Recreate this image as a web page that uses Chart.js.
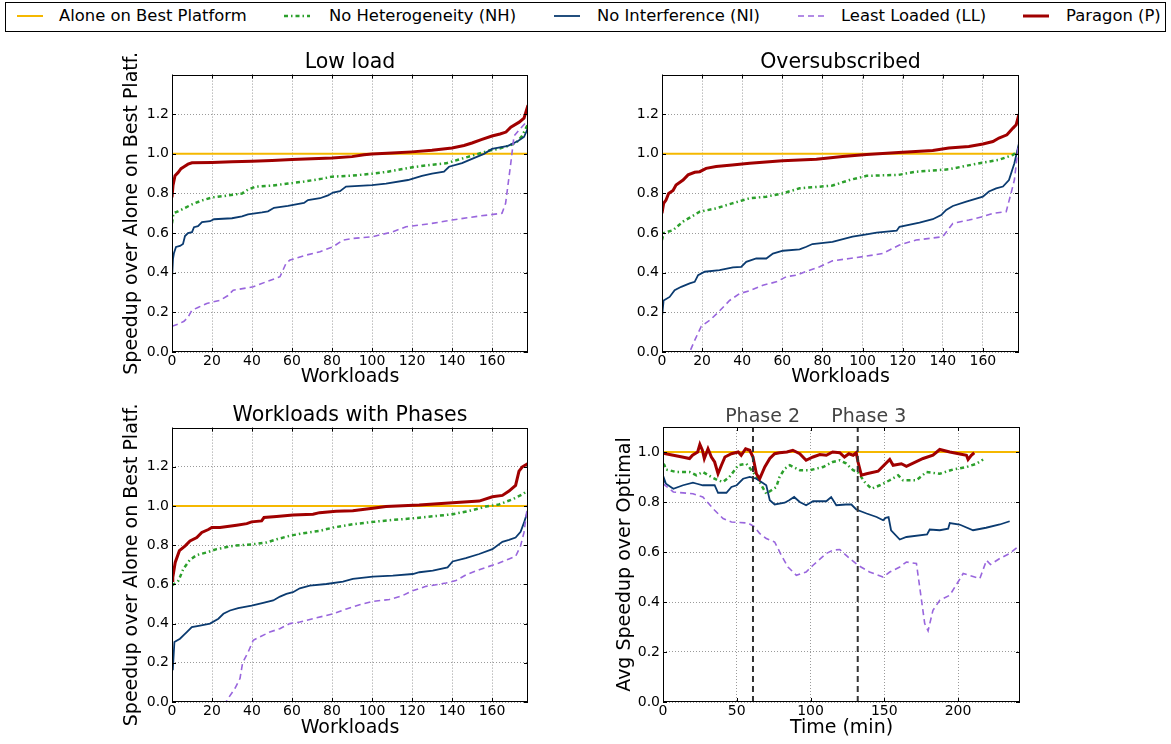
<!DOCTYPE html>
<html>
<head>
<meta charset="utf-8">
<script src="https://cdn.jsdelivr.net/npm/chart.js@4.4.1/dist/chart.umd.min.js"></script>
<style>
  body { margin: 0; background: #fff; font-family: 'DejaVu Sans', sans-serif; }
  #page { position: relative; width: 1171px; height: 744px; overflow: hidden; }
  canvas { position: absolute; }
  #legendBox { position: absolute; left: 5px; top: 2px; width: 1159px; height: 28px; border: 1px solid #000; }
  .item { position: absolute; top: 2px; height: 28px; line-height: 28px; font-size: 16.4px; white-space: nowrap; color: #000; }
  .swatch { position: absolute; top: 12px; }
</style>
</head>
<body>
<div id="page">
  <div id="legendBox"></div>
  <canvas id="lowLoad" width="430" height="345" style="left:112px;top:46px"></canvas>
  <canvas id="oversub" width="431" height="345" style="left:602px;top:46px"></canvas>
  <canvas id="phases" width="430" height="342" style="left:112px;top:399px"></canvas>
  <canvas id="timeline" width="431" height="342" style="left:603px;top:399px"></canvas>
</div>
<script>
// series names, legend order
const seriesNames = ['Alone on Best Platform', 'No Heterogeneity (NH)', 'No Interference (NI)', 'Least Loaded (LL)', 'Paragon (P)'];
const aloneLevel = 1.0;

// ticks
const workloadTicks = [0, 20, 40, 60, 80, 100, 120, 140, 160];
const timeTicks = [0, 50, 100, 150, 200];
const speedupTicks = [0, 0.2, 0.4, 0.6, 0.8, 1.0, 1.2];
const avgTicks = [0, 0.2, 0.4, 0.6, 0.8, 1.0];
const workloadMax = 178;
const timeMax = 242;

// Low load  [workload, speedup]
const lowNH = [[0,0.65],[0.7,0.70],[3,0.71],[6,0.725],[10,0.745],[15,0.765],[20,0.78],[28,0.79],[35,0.80],[38,0.82],[42,0.835],[50,0.84],[58,0.85],[66,0.86],[75,0.875],[80,0.885],[90,0.89],[100,0.90],[108,0.91],[116,0.925],[122,0.935],[130,0.945],[137,0.952],[143,0.97],[148,0.985],[153,1.0],[158,1.015],[163,1.025],[168,1.04],[172,1.055],[175,1.09],[178,1.15]];
const lowNI = [[0,0.37],[0.5,0.47],[1,0.50],[2,0.53],[4,0.535],[5.5,0.545],[6.5,0.585],[8,0.60],[10,0.605],[11,0.63],[13,0.635],[15,0.655],[19,0.66],[21,0.67],[30,0.675],[35,0.685],[38,0.695],[45,0.705],[48,0.71],[51,0.728],[58,0.737],[62,0.745],[66,0.752],[68,0.767],[74,0.776],[78,0.79],[80.5,0.805],[84,0.812],[87,0.835],[100,0.842],[107,0.85],[118,0.868],[125,0.889],[130,0.90],[136,0.91],[138.5,0.935],[145,0.953],[150,0.975],[156,1.0],[160,1.025],[168,1.04],[173,1.065],[176,1.085],[178,1.13]];
const lowLL = [[0,0.13],[3,0.14],[6,0.155],[8,0.175],[9.9,0.21],[13,0.225],[17.4,0.245],[24,0.261],[28,0.285],[30.6,0.312],[40.6,0.329],[47,0.354],[54,0.38],[57,0.447],[59,0.464],[67,0.489],[74,0.506],[80.5,0.531],[85.5,0.565],[90.4,0.573],[100.4,0.582],[110.4,0.607],[117,0.632],[130,0.649],[140,0.666],[153.6,0.686],[165,0.70],[166.8,0.75],[169.4,0.953],[171,1.09],[173.5,1.12],[178,1.17]];
const lowP = [[0,0.78],[0.5,0.84],[1.5,0.89],[3,0.905],[4.5,0.925],[6,0.935],[8,0.948],[10,0.955],[20,0.957],[30,0.96],[40,0.963],[50,0.967],[60,0.971],[70,0.975],[80,0.979],[90,0.986],[96,0.995],[100,0.999],[110,1.004],[120,1.01],[130,1.018],[140,1.03],[146,1.042],[150,1.055],[155,1.073],[160,1.09],[164,1.1],[167,1.11],[169.4,1.135],[173.6,1.16],[176,1.18],[178,1.245]];

// Oversubscribed
const overNH = [[0,0.565],[0.8,0.6],[5.5,0.615],[10.5,0.658],[18.8,0.708],[27,0.725],[35,0.75],[43.7,0.776],[52,0.784],[60,0.80],[68.6,0.826],[85,0.84],[93.5,0.868],[102,0.889],[118,0.894],[126.7,0.91],[143,0.922],[151.7,0.94],[160,0.956],[168,0.97],[175,0.995],[178,1.02]];
const overNI = [[0,0.177],[0.8,0.26],[3.8,0.278],[6.3,0.312],[9.6,0.329],[13.8,0.346],[16.3,0.354],[18,0.388],[21.3,0.405],[28.7,0.413],[35.4,0.427],[39.5,0.43],[42,0.455],[47,0.472],[52,0.472],[55.3,0.497],[60.3,0.511],[68.6,0.518],[72,0.531],[75,0.545],[85,0.556],[95,0.582],[102,0.594],[107,0.602],[117,0.612],[118.4,0.632],[128.4,0.653],[135,0.67],[139.2,0.691],[141.7,0.717],[145,0.737],[151.7,0.759],[160,0.784],[163,0.81],[166.6,0.826],[170,0.835],[173,0.868],[175.7,0.953],[178,1.054]];
const overLL = [[0,0],[13.8,0],[16.3,0.059],[19.6,0.13],[23.8,0.16],[28,0.2],[33.7,0.26],[38.7,0.295],[43.7,0.309],[50.3,0.337],[57,0.354],[62,0.38],[67,0.388],[73.6,0.413],[78.6,0.43],[85,0.46],[93.5,0.472],[102,0.484],[110,0.497],[118.4,0.54],[126.7,0.565],[140,0.582],[145,0.649],[153,0.666],[160,0.683],[165,0.7],[171.6,0.708],[174,0.80],[175.7,0.868],[178,1.07]];
const overP = [[0,0.70],[0.8,0.75],[2,0.767],[3.3,0.80],[5.5,0.815],[7,0.843],[10.5,0.868],[13,0.894],[16.3,0.907],[18.8,0.91],[22,0.927],[27,0.936],[35,0.944],[43.7,0.953],[60,0.965],[77,0.973],[90,0.987],[102,0.997],[118,1.007],[135,1.017],[143,1.03],[153,1.037],[160,1.05],[165,1.062],[168,1.08],[172,1.096],[175,1.13],[176.6,1.147],[178,1.2]];

// Workloads with phases
const phaseNH = [[0,0.594],[3.3,0.62],[5.7,0.68],[9,0.726],[12.4,0.75],[17.4,0.763],[22.3,0.78],[30.6,0.797],[40.6,0.805],[47.3,0.814],[52.3,0.83],[58.9,0.848],[65.5,0.861],[73.8,0.873],[80.5,0.89],[90.4,0.907],[100.4,0.919],[110.4,0.929],[120.4,0.937],[132,0.949],[140.3,0.958],[148.6,0.975],[157,0.997],[163.5,1.008],[170.2,1.034],[175.2,1.059],[178,1.08]];
const phaseNI = [[0.4,0.162],[1.2,0.306],[4,0.323],[5.7,0.34],[7.4,0.357],[9.9,0.382],[14,0.39],[19,0.4],[23.2,0.425],[25.7,0.45],[29,0.467],[33.1,0.479],[39.8,0.492],[45.6,0.506],[50.6,0.518],[54,0.538],[57.2,0.552],[60.5,0.56],[63.9,0.58],[68.9,0.594],[77.2,0.602],[85.5,0.614],[90.4,0.628],[100.4,0.64],[110.4,0.645],[120.4,0.653],[123.7,0.662],[130.4,0.67],[137.8,0.687],[140.3,0.717],[146.9,0.734],[153.6,0.755],[160.2,0.78],[165.2,0.817],[168.5,0.827],[171.8,0.839],[174.3,0.868],[176,0.915],[178,0.98]];
const phaseLL = [[0,0],[27,0],[28.2,0.02],[31.5,0.07],[34,0.12],[35.3,0.2],[38.1,0.255],[40.6,0.315],[43.9,0.332],[48.9,0.357],[53.9,0.374],[58.9,0.4],[63.9,0.408],[70.5,0.425],[80.5,0.45],[87.2,0.475],[93.8,0.496],[100.4,0.513],[108.7,0.523],[115.3,0.543],[120.3,0.568],[127,0.59],[137,0.607],[142,0.62],[146.9,0.648],[153.6,0.675],[158.5,0.692],[163.5,0.709],[168.5,0.73],[171.8,0.743],[174.3,0.797],[176,0.865],[178,1.02]];
const phaseP = [[0,0.62],[0.4,0.636],[1.6,0.712],[3.7,0.772],[6.6,0.797],[9,0.822],[12.4,0.839],[14.9,0.865],[18.2,0.88],[19.9,0.89],[24,0.89],[32.3,0.902],[37.4,0.91],[39.8,0.919],[44.8,0.924],[46,0.941],[52.3,0.946],[60.5,0.954],[70.5,0.958],[73.8,0.966],[82,0.973],[90.4,0.976],[100.4,0.988],[107,0.997],[123.6,1.005],[140.3,1.017],[153.6,1.025],[160.2,1.047],[165.2,1.054],[168.5,1.076],[171.8,1.105],[173.5,1.178],[175.2,1.2],[178,1.217]];

// Timeline  [minutes, avg speedup]
const timeNH = [[0,0.953],[1,0.947],[2,0.93],[9,0.92],[18,0.92],[22.6,0.907],[27,0.92],[32.8,0.9],[37.3,0.887],[40.7,0.88],[45,0.9],[51,0.947],[56.5,0.953],[61,0.92],[65.5,0.88],[70,0.833],[73.5,0.847],[76.8,0.86],[79,0.9],[82.5,0.933],[86,0.947],[92.7,0.927],[99.5,0.927],[108.5,0.94],[115,0.96],[119.8,0.967],[124,0.955],[128.9,0.927],[132,0.92],[136.7,0.88],[141.3,0.853],[147,0.867],[153.7,0.887],[159.4,0.907],[162.7,0.887],[171.8,0.887],[178.6,0.92],[187.6,0.913],[196.6,0.93],[205.7,0.94],[212.5,0.953],[217,0.97]];
const timeNI = [[0,0.87],[0.8,0.893],[2,0.873],[7,0.853],[13.6,0.867],[20.3,0.877],[23,0.873],[27,0.867],[35,0.867],[37.3,0.837],[43,0.837],[46.4,0.86],[50,0.867],[54.3,0.893],[58.8,0.9],[63.3,0.893],[66.7,0.88],[70,0.867],[72.4,0.807],[75.7,0.79],[82.5,0.797],[85.5,0.807],[88.9,0.82],[92.7,0.8],[97,0.787],[101.7,0.803],[110.7,0.803],[114,0.82],[117.5,0.787],[124,0.79],[127.7,0.79],[131,0.77],[138,0.754],[144.8,0.74],[149.2,0.727],[151,0.737],[152.9,0.74],[154.6,0.687],[160.5,0.65],[165,0.66],[179,0.67],[180.8,0.69],[187.6,0.687],[193.3,0.693],[194.4,0.716],[201,0.71],[210.2,0.687],[219,0.697],[228.3,0.71],[235,0.723]];
const timeLL = [[0,0.873],[7,0.84],[20.3,0.833],[27,0.82],[35,0.767],[40.7,0.734],[46.4,0.72],[57.6,0.716],[62.2,0.7],[65.5,0.674],[70,0.654],[75.7,0.64],[80.2,0.587],[84.7,0.54],[90.4,0.507],[97,0.52],[101.7,0.547],[110.7,0.594],[115,0.607],[119.8,0.61],[126.6,0.574],[132.2,0.547],[140,0.52],[149.2,0.5],[153.7,0.52],[160.5,0.54],[165,0.56],[171.8,0.554],[174,0.46],[177.4,0.314],[179.7,0.285],[183,0.367],[187.6,0.407],[194.4,0.427],[200,0.48],[203.5,0.514],[214.8,0.494],[219.3,0.567],[222,0.55],[228.3,0.574],[235,0.594],[242,0.627]];
const timeP = [[0,0.995],[7,0.987],[13,0.98],[18,0.974],[20,0.987],[23.5,1.0],[25,1.03],[26.7,1.007],[28,0.974],[30.5,1.013],[32.8,0.98],[35,0.96],[37.3,0.913],[39.6,0.947],[42,0.98],[46.4,0.993],[51,1.0],[53,0.987],[56,1.013],[58.8,1.007],[61,0.98],[63.3,0.913],[65.5,0.893],[69,0.94],[72.4,0.974],[75.7,0.993],[79,0.997],[84,1.0],[88,1.007],[92.7,0.993],[97,0.967],[101.7,0.98],[106.3,0.99],[110.7,0.987],[115,1.0],[119.8,0.997],[123,0.98],[126,0.993],[128.9,0.987],[131,0.997],[132.2,0.96],[134.5,0.907],[138,0.913],[145.8,0.923],[153.7,0.97],[156,0.947],[161.6,0.953],[165,0.943],[176.3,0.974],[183,0.987],[187.6,1.01],[194.4,1.0],[205.7,0.987],[206.8,0.97],[209,0.987],[211,0.997]];

const phaseLines = [61, 132];
const phaseLabels = ['Phase 2', 'Phase 3'];
const phaseLabelX = [67.5, 139.5];

// styles per series (same order as seriesNames)
const seriesStyle = [
  { color: '#f5b800', width: 2, dash: [] },
  { color: '#2ca02c', width: 2.5, dash: [4, 3, 1.5, 3] },
  { color: '#0b3b70', width: 1.8, dash: [] },
  { color: '#9966dd', width: 1.6, dash: [6, 4] },
  { color: '#a00000', width: 3, dash: [] }
];
const legendPos = [[17, 59], [284, 329], [554, 597], [798, 841], [1023, 1066]];

Chart.defaults.font.family = "'DejaVu Sans', sans-serif";
Chart.defaults.color = '#000';

// legend (html)
const page = document.getElementById('page');
seriesNames.forEach((name, i) => {
  const st = seriesStyle[i];
  const sw = document.createElementNS('http://www.w3.org/2000/svg', 'svg');
  sw.setAttribute('width', 26); sw.setAttribute('height', 8);
  sw.setAttribute('class', 'swatch');
  sw.style.left = legendPos[i][0] + 'px';
  sw.innerHTML = '<line x1="0" y1="4" x2="26" y2="4" stroke="' + st.color + '" stroke-width="' + st.width +
    '" stroke-dasharray="' + (st.dash.length ? st.dash.join(' ') : 'none') + '"/>';
  page.appendChild(sw);
  const t = document.createElement('div');
  t.className = 'item';
  t.style.left = legendPos[i][1] + 'px';
  t.textContent = name;
  page.appendChild(t);
});

function toXY(arr) { return arr.map(p => ({ x: p[0], y: p[1] })); }

// frame + inward ticks like matplotlib
const framePlugin = {
  id: 'frame',
  afterDatasetsDraw(chart) {
    const { ctx, chartArea: a, scales: { x, y } } = chart;
    ctx.save();
    ctx.strokeStyle = '#000';
    ctx.lineWidth = 1;
    ctx.setLineDash([]);
    ctx.strokeRect(Math.round(a.left) + 0.5, Math.round(a.top) + 0.5, Math.round(a.right - a.left) - 1, Math.round(a.bottom - a.top) - 1);
    ctx.beginPath();
    x.ticks.forEach(t => {
      const px = Math.round(x.getPixelForValue(t.value)) + 0.5;
      ctx.moveTo(px, a.bottom); ctx.lineTo(px, a.bottom - 4);
      ctx.moveTo(px, a.top); ctx.lineTo(px, a.top + 4);
    });
    y.ticks.forEach(t => {
      const py = Math.round(y.getPixelForValue(t.value)) + 0.5;
      ctx.moveTo(a.left, py); ctx.lineTo(a.left + 4, py);
      ctx.moveTo(a.right, py); ctx.lineTo(a.right - 4, py);
    });
    ctx.stroke();
    ctx.restore();
  }
};

const phaseTextPlugin = {
  id: 'phaseText',
  afterDraw(chart) {
    if (chart.canvas.id !== 'timeline') return;
    const { ctx, chartArea, scales: { x } } = chart;
    ctx.save();
    ctx.font = "19px 'DejaVu Sans'";
    ctx.fillStyle = '#444';
    ctx.textAlign = 'center';
    ctx.textBaseline = 'middle';
    phaseLabels.forEach((txt, i) => ctx.fillText(txt, x.getPixelForValue(phaseLabelX[i]), chartArea.top - 10));
    ctx.restore();
  }
};

function lineSet(data, i) {
  const st = seriesStyle[i];
  return {
    label: seriesNames[i],
    data: toXY(data),
    borderColor: st.color,
    borderWidth: st.width,
    borderDash: st.dash,
    pointRadius: 0,
    tension: 0,
    fill: false,
    clip: 0,
    order: 5 - i
  };
}

function makeChart(id, opt) {
  const sets = [lineSet([[0, aloneLevel], [opt.xMax, aloneLevel]], 0)];
  opt.series.forEach((s, k) => sets.push(lineSet(s, k + 1)));
  (opt.vlines || []).forEach(v => sets.push({
    data: [{ x: v, y: 0 }, { x: v, y: opt.yMax }],
    borderColor: '#333', borderWidth: 2, borderDash: [6, 4], pointRadius: 0, clip: 0, order: 0
  }));
  return new Chart(document.getElementById(id), {
    type: 'line',
    data: { datasets: sets },
    plugins: [framePlugin, phaseTextPlugin],
    options: {
      responsive: false,
      animation: false,
      events: [],
      layout: { padding: { top: opt.title ? 0 : 28, right: 14, left: 0, bottom: 0 } },
      plugins: {
        legend: { display: false },
        tooltip: { enabled: false },
        title: {
          display: !!opt.title,
          text: opt.title,
          fullSize: false,
          font: { size: 20.5, weight: 'normal' },
          color: '#000',
          padding: { top: 4, bottom: 0 }
        }
      },
      scales: {
        x: {
          type: 'linear',
          min: 0, max: opt.xMax,
          afterBuildTicks: s => { s.ticks = opt.xTicks.map(v => ({ value: v })); },
          afterFit: s => { s.height = 39; },
          ticks: { font: { size: 14 }, padding: 1, maxRotation: 0, callback: v => String(v) },
          grid: { color: '#9a9a9a', lineWidth: 1, drawTicks: false },
          border: { display: false, dash: [1, 2] },
          title: { display: true, text: opt.xTitle, font: { size: 19 }, padding: { top: 0, bottom: opt.xTitlePad } }
        },
        y: {
          min: 0, max: opt.yMax,
          afterBuildTicks: s => { s.ticks = opt.yTicks.map(v => ({ value: v })); },
          afterFit: s => { s.width = 60; },
          ticks: { font: { size: 14 }, padding: 3, callback: v => Number(v).toFixed(1) },
          grid: { color: '#9a9a9a', lineWidth: 1, drawTicks: false },
          border: { display: false, dash: [1, 2] },
          title: { display: !!opt.yTitle, text: opt.yTitle, font: { size: 19 }, padding: { top: opt.yTitlePad, bottom: 0 } }
        }
      }
    }
  });
}

makeChart('lowLoad', {
  title: 'Low load', series: [lowNH, lowNI, lowLL, lowP],
  xMax: workloadMax, yMax: 1.4, xTicks: workloadTicks, yTicks: speedupTicks,
  xTitle: 'Workloads', xTitlePad: 2.3, yTitle: 'Speedup over Alone on Best Platf.', yTitlePad: 9
});
makeChart('oversub', {
  title: 'Oversubscribed', series: [overNH, overNI, overLL, overP],
  xMax: workloadMax, yMax: 1.4, xTicks: workloadTicks, yTicks: speedupTicks,
  xTitle: 'Workloads', xTitlePad: 2.3
});
makeChart('phases', {
  title: 'Workloads with Phases', series: [phaseNH, phaseNI, phaseLL, phaseP],
  xMax: workloadMax, yMax: 1.4, xTicks: workloadTicks, yTicks: speedupTicks,
  xTitle: 'Workloads', xTitlePad: 1.3, yTitle: 'Speedup over Alone on Best Platf.', yTitlePad: 9
});
makeChart('timeline', {
  series: [timeNH, timeNI, timeLL, timeP], vlines: phaseLines,
  xMax: timeMax, yMax: 1.1, xTicks: timeTicks, yTicks: avgTicks,
  xTitle: 'Time (min)', xTitlePad: 1.3, yTitle: 'Avg Speedup over Optimal', yTitlePad: 11
});
</script>
</body>
</html>
